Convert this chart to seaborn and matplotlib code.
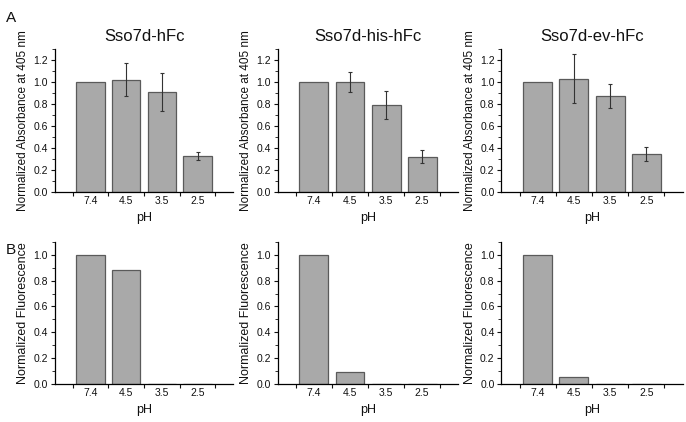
import numpy as np
import pandas as pd
import matplotlib
matplotlib.use("Agg")
import matplotlib.pyplot as plt
from matplotlib.ticker import MultipleLocator, FixedLocator
import seaborn as sns

sns.set_style("white")
plt.rcParams['font.family'] = ['Liberation Sans', 'DejaVu Sans']
plt.rcParams['text.color'] = '#111111'
plt.rcParams['axes.labelcolor'] = '#111111'
plt.rcParams['xtick.color'] = '#111111'
plt.rcParams['ytick.color'] = '#111111'

ph_labels = ["7.4", "4.5", "3.5", "2.5"]
titles = ["Sso7d-hFc", "Sso7d-his-hFc", "Sso7d-ev-hFc"]

abs_hfc = [1.00, 1.02, 0.91, 0.33]
abs_hfc_err = [np.nan, 0.15, 0.17, 0.035]
abs_his = [1.00, 1.00, 0.79, 0.32]
abs_his_err = [np.nan, 0.095, 0.125, 0.058]
abs_ev = [1.00, 1.03, 0.875, 0.345]
abs_ev_err = [np.nan, 0.225, 0.11, 0.06]

fl_hfc = [1.00, 0.88, 0.0, 0.0]
fl_his = [1.00, 0.095, 0.0, 0.0]
fl_ev = [1.00, 0.055, 0.0, 0.0]

abs_vals = [abs_hfc, abs_his, abs_ev]
abs_errs = [abs_hfc_err, abs_his_err, abs_ev_err]
fl_vals = [fl_hfc, fl_his, fl_ev]

fig = plt.figure(figsize=(6.86, 4.22), dpi=100)

lefts = [0.080, 0.405, 0.731]
widths = [0.260, 0.263, 0.264]
bar_color = "#a9a9a9"
edge_color = "#5a5a5a"

def style_axis(ax, ymax, major):
    ax.set_xlim(-1, 4)
    ax.set_ylim(0, ymax)
    ax.yaxis.set_major_locator(MultipleLocator(major))
    ax.yaxis.set_minor_locator(MultipleLocator(major / 2))
    ax.xaxis.set_major_locator(FixedLocator([0, 1, 2, 3]))
    ax.xaxis.set_minor_locator(FixedLocator([-0.5, 0.5, 1.5, 2.5, 3.5]))
    ax.set_xticklabels(ph_labels)
    for s in ["top", "right"]:
        ax.spines[s].set_visible(False)
    for s in ["left", "bottom"]:
        ax.spines[s].set_color("black")
        ax.spines[s].set_linewidth(0.9)
    ax.tick_params(axis="x", which="major", length=0, labelsize=7.5, pad=3)
    ax.tick_params(axis="x", which="minor", length=3, width=0.8, direction="out", bottom=True)
    ax.tick_params(axis="y", which="major", length=3, width=0.8, direction="out", left=True, labelsize=7.5, pad=2)
    ax.tick_params(axis="y", which="minor", length=2, width=0.6, direction="out", left=True)
    ax.set_xlabel("pH", fontsize=9, labelpad=4)

for i in range(3):
    ax = fig.add_axes([lefts[i], 0.545, widths[i], 0.339])
    df = pd.DataFrame({"pH": ph_labels, "val": abs_vals[i]})
    sns.barplot(data=df, x="pH", y="val", ax=ax, color=bar_color, errorbar=None,
                width=0.8, edgecolor=edge_color, linewidth=0.9, saturation=1)
    ax.errorbar(np.arange(len(ph_labels)), abs_vals[i], yerr=abs_errs[i], fmt="none",
                ecolor="#333333", elinewidth=0.8, capsize=1.5, capthick=0.8)
    style_axis(ax, 1.3, 0.2)
    ax.set_ylabel("Normalized Absorbance at 405 nm", fontsize=8.5, labelpad=3)
    ax.set_title(titles[i], fontsize=12, pad=6)

for i in range(3):
    ax = fig.add_axes([lefts[i], 0.090, widths[i], 0.337])
    df = pd.DataFrame({"pH": ph_labels, "val": fl_vals[i]})
    sns.barplot(data=df, x="pH", y="val", ax=ax, color=bar_color, errorbar=None,
                width=0.8, edgecolor=edge_color, linewidth=0.9, saturation=1)
    style_axis(ax, 1.1, 0.2)
    ax.yaxis.set_minor_locator(MultipleLocator(0.1))
    ax.set_ylabel("Normalized Fluorescence", fontsize=9, labelpad=3)

fig.text(0.008, 0.975, "A", fontsize=11, va="top", ha="left")
fig.text(0.008, 0.425, "B", fontsize=11, va="top", ha="left")

fig.savefig("out.png", dpi=100)
